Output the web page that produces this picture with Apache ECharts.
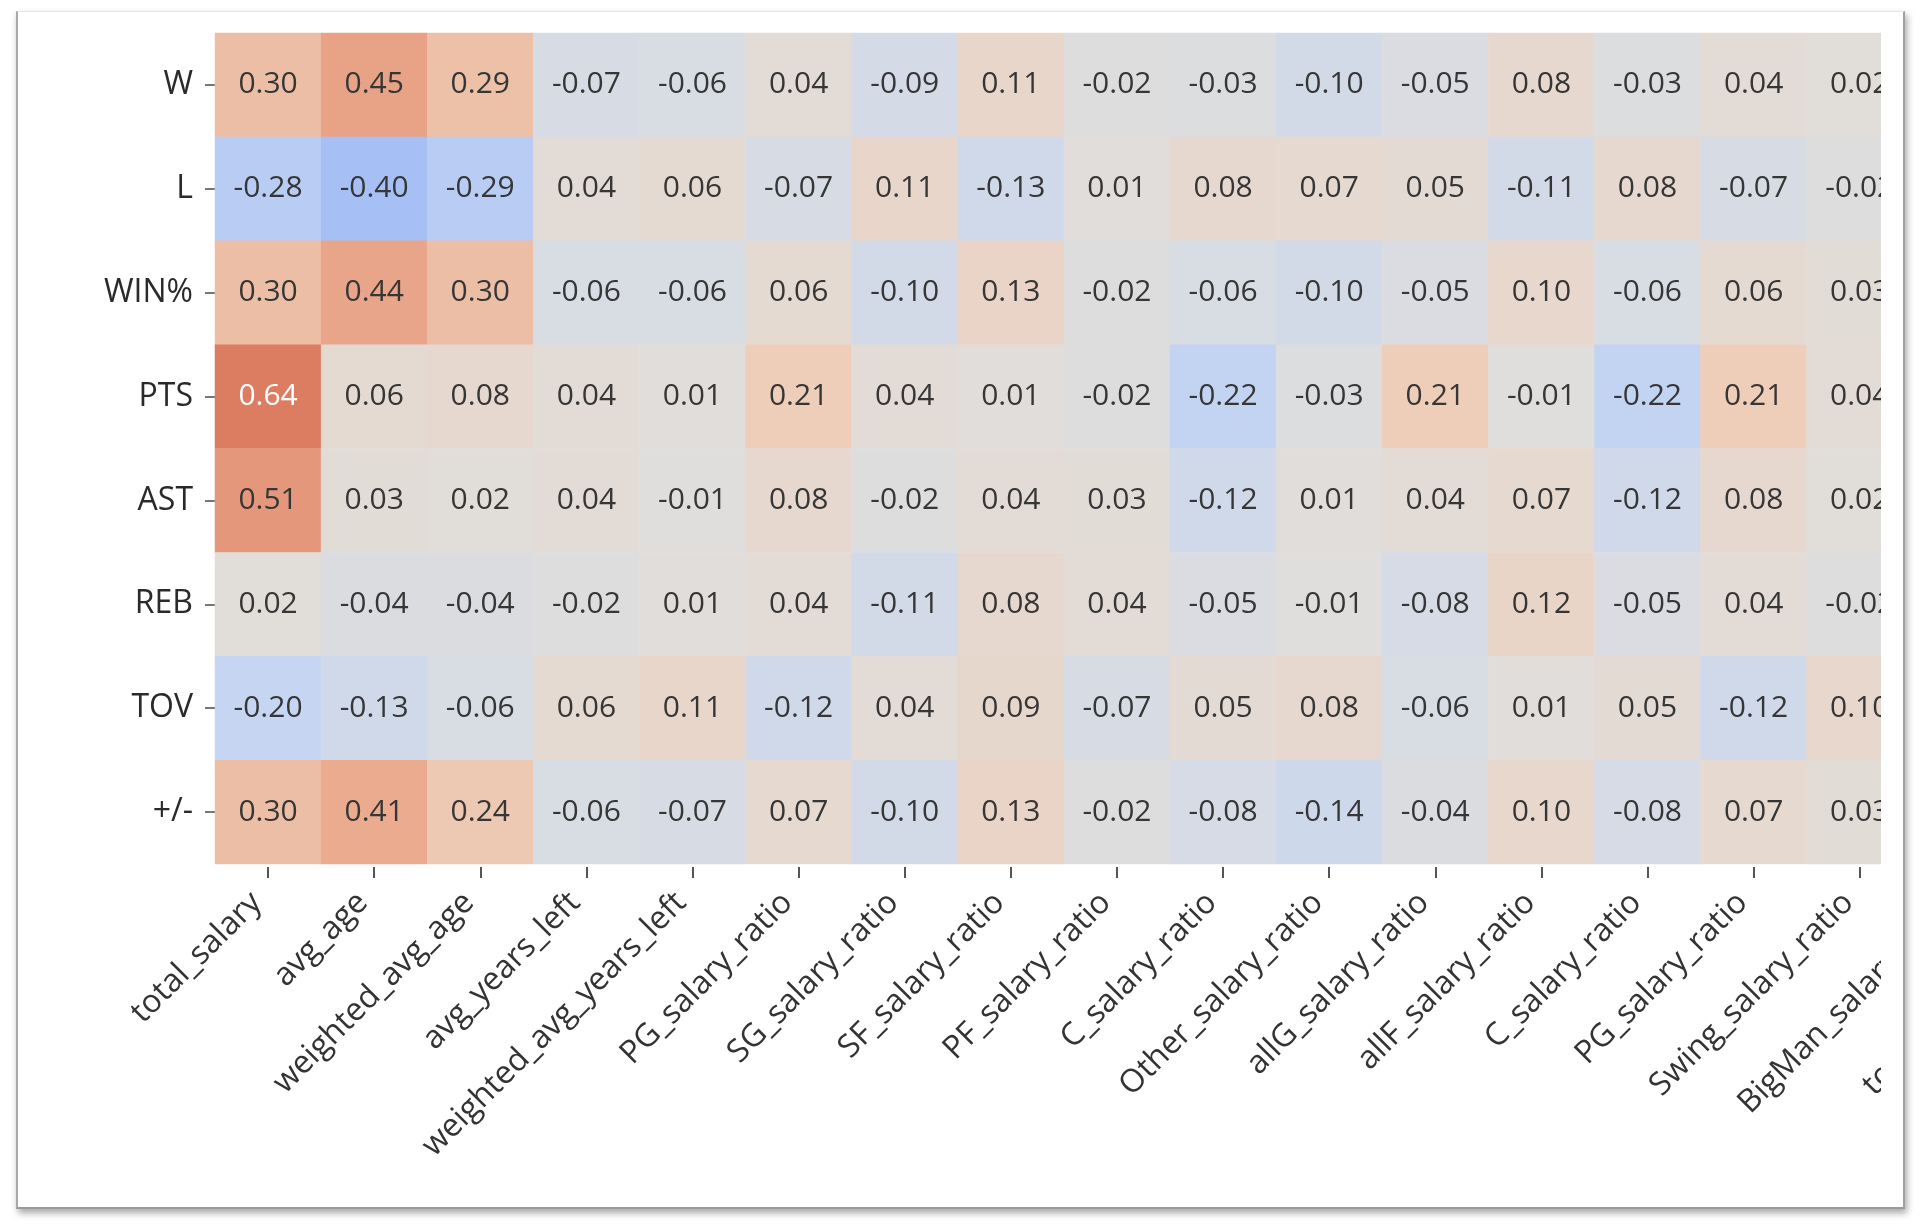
<!DOCTYPE html>
<html>
<head>
<meta charset="utf-8">
<script src="https://cdn.jsdelivr.net/npm/echarts@6/dist/echarts.min.js"></script>
<style>
  html, body { margin: 0; padding: 0; background: #ffffff; width: 1920px; height: 1230px; overflow: hidden; }
  #card {
    position: absolute; left: 16px; top: 11px; width: 1885px; height: 1195px;
    background: #ffffff;
    border-top: 1px solid #e8e8e8;
    border-left: 2px solid #a8a8a8;
    border-right: 2px solid #a0a0a0;
    border-bottom: 2px solid #9a9a9a;
    box-shadow: 2px 4px 7px rgba(0,0,0,0.35);
  }
  #clip { position: absolute; left: 0; top: 0; width: 1881px; height: 1230px; overflow: hidden; }
  #chart { position: absolute; left: 0; top: 0; width: 2400px; height: 1230px; }
</style>
</head>
<body>
<div id="card"></div>
<div id="clip"><div id="chart"></div></div>
<script>
const xCategories = [
  "total_salary", "avg_age", "weighted_avg_age", "avg_years_left", "weighted_avg_years_left",
  "PG_salary_ratio", "SG_salary_ratio", "SF_salary_ratio", "PF_salary_ratio", "C_salary_ratio",
  "Other_salary_ratio", "allG_salary_ratio", "allF_salary_ratio", "C_salary_ratio", "PG_salary_ratio",
  "Swing_salary_ratio", "BigMan_salary_ratio", "top10_salary_ratio"
];
const yCategories = ["W", "L", "WIN%", "PTS", "AST", "REB", "TOV", "+/-"];

const rowW    = [0.30, 0.45, 0.29, -0.07, -0.06, 0.04, -0.09, 0.11, -0.02, -0.03, -0.10, -0.05, 0.08, -0.03, 0.04, 0.02];
const rowL    = [-0.28, -0.40, -0.29, 0.04, 0.06, -0.07, 0.11, -0.13, 0.01, 0.08, 0.07, 0.05, -0.11, 0.08, -0.07, -0.02];
const rowWINP = [0.30, 0.44, 0.30, -0.06, -0.06, 0.06, -0.10, 0.13, -0.02, -0.06, -0.10, -0.05, 0.10, -0.06, 0.06, 0.03];
const rowPTS  = [0.64, 0.06, 0.08, 0.04, 0.01, 0.21, 0.04, 0.01, -0.02, -0.22, -0.03, 0.21, -0.01, -0.22, 0.21, 0.04];
const rowAST  = [0.51, 0.03, 0.02, 0.04, -0.01, 0.08, -0.02, 0.04, 0.03, -0.12, 0.01, 0.04, 0.07, -0.12, 0.08, 0.02];
const rowREB  = [0.02, -0.04, -0.04, -0.02, 0.01, 0.04, -0.11, 0.08, 0.04, -0.05, -0.01, -0.08, 0.12, -0.05, 0.04, -0.02];
const rowTOV  = [-0.20, -0.13, -0.06, 0.06, 0.11, -0.12, 0.04, 0.09, -0.07, 0.05, 0.08, -0.06, 0.01, 0.05, -0.12, 0.10];
const rowPM   = [0.30, 0.41, 0.24, -0.06, -0.07, 0.07, -0.10, 0.13, -0.02, -0.08, -0.14, -0.04, 0.10, -0.08, 0.07, 0.03];
const rows = [rowW, rowL, rowWINP, rowPTS, rowAST, rowREB, rowTOV, rowPM];

// diverging palette from -1 to 1 (step 0.2)
const paletteColors = ["#3b4cc0", "#6282ea", "#84a5f4", "#a6c0f6", "#c6d6f2", "#e0dedc",
                       "#eecfbb", "#ebad91", "#df8569", "#d0583f", "#b40426"];

const data = [];
rows.forEach((row, yi) => {
  row.forEach((v, xi) => {
    data.push({ value: [xi, yi, v], label: { color: v > 0.6 ? "#ffffff" : "#363636" } });
  });
});

const FONT = "'Open Sans', 'Noto Sans', sans-serif";
const chart = echarts.init(document.getElementById('chart'), null, { renderer: 'canvas' });
chart.setOption({
  animation: false,
  grid: { left: 215, top: 33, width: 1910, height: 831 },
  xAxis: {
    type: 'category', data: xCategories, position: 'bottom', offset: 3,
    splitArea: { show: false }, splitLine: { show: false },
    axisLine: { show: false },
    axisTick: { show: true, alignWithLabel: true, length: 11, lineStyle: { color: '#555555', width: 2 } },
    axisLabel: { interval: 0, rotate: 45, margin: 42, verticalAlign: 'bottom', fontSize: 32, color: '#333333', fontFamily: FONT }
  },
  yAxis: {
    type: 'category', data: yCategories, inverse: true,
    splitArea: { show: false }, splitLine: { show: false },
    axisLine: { show: false },
    axisTick: { show: true, alignWithLabel: true, length: 10, lineStyle: { color: '#777777', width: 2 } },
    axisLabel: { margin: 22, fontSize: 32, color: '#2a2a2a', fontFamily: FONT }
  },
  visualMap: {
    show: false, type: 'continuous', min: -1, max: 1, dimension: 2,
    inRange: { color: paletteColors }
  },
  series: [{
    type: 'heatmap',
    data: data,
    label: {
      show: true, fontSize: 30, fontFamily: FONT,
      formatter: p => p.value[2].toFixed(2)
    },
    emphasis: { disabled: true },
    itemStyle: { borderWidth: 0 }
  }]
});
</script>
</body>
</html>
